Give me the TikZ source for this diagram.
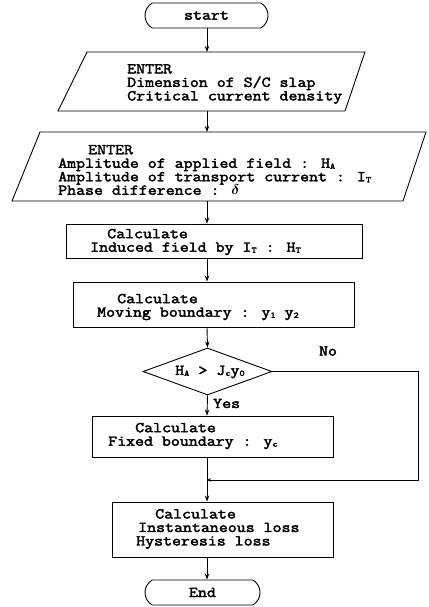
\documentclass[tikz,border=0pt]{standalone}
\usepackage{fontspec}
\usepackage{amsmath,amssymb,bm}
\usetikzlibrary{shapes.geometric,shapes.misc,arrows.meta}
\newfontfamily\fcf[FakeStretch=1.16,FakeBold=2.6]{Latin Modern Mono}
\newcommand\sbx[1]{\raisebox{-1pt}{\fontsize{8.5}{8.5}\selectfont #1}}
\begin{document}
\begin{tikzpicture}[x=1pt,y=-1pt,
  every node/.style={font={\fcf\fontsize{15}{13.5}\selectfont}},
  ln/.style={line width=0.9pt},
  arr/.style={ln,-{Stealth[length=6pt,width=4.5pt]}},
  boxx/.style={draw,ln,rectangle,inner sep=0pt},
  term/.style={draw,ln,rounded rectangle,rounded rectangle arc length=120,inner sep=0pt},
  txt/.style={anchor=west,align=left,inner sep=0pt}]
\path[use as bounding box] (0,0) rectangle (428,607);
\coordinate (ax) at (207,0);
% start
\node[term,minimum width=123pt,minimum height=25pt] (s) at (206.5,15.5) {start};
% parallelogram 1
\coordinate (p1a) at (87,52);
\coordinate (p1b) at (365,52);
\coordinate (p1c) at (345,111);
\coordinate (p1d) at (58,111);
\draw[ln] (p1a) -- (p1b) -- (p1c) -- (p1d) -- cycle;
\node[txt] (t1) at (127,84) {ENTER\\Dimension of S/C slap\\Critical current density};
\draw[arr] (s.south -| ax) -- (p1a -| ax);
% parallelogram 2
\coordinate (p2a) at (40,132);
\coordinate (p2b) at (426,132);
\coordinate (p2c) at (403,201);
\coordinate (p2d) at (12,201);
\draw[ln] (p2a) -- (p2b) -- (p2c) -- (p2d) -- cycle;
\node[txt] (t2) at (58,170) {\hspace*{30pt}ENTER\\Amplitude of applied field : H\sbx{A}\\Amplitude of transport current : I\sbx{T}\\Phase difference : $\bm{\delta}$};
\draw[arr] (p1d -| ax) -- (p2a -| ax);
% box 3
\node[boxx,minimum width=296pt,minimum height=34pt] (b3) at (214,241) {};
\node[txt] (t3) at (90,242) {\hspace*{17pt}Calculate\\Induced field by I\sbx{T} : H\sbx{T}};
\draw[arr] (p2d -| ax) -- (b3.north -| ax);
% box 4
\node[boxx,minimum width=281pt,minimum height=45pt] (b4) at (213.5,304.5) {};
\node[txt] (t4) at (97,307) {\hspace*{20pt}Calculate\\Moving boundary : y\sbx{1} y\sbx{2}};
\draw[arr] (b3.south -| ax) -- (b4.north -| ax);
% decision
\node[diamond,draw,ln,inner sep=0pt,minimum width=129pt,minimum height=47pt] (d) at (207.5,371.5) {};
\node[inner sep=0pt] (dl) at (210,372) {H\sbx{A} > J\sbx{c}y\sbx{0}};
\draw[arr] (b4.south -| ax) -- (d.north);
\node[inner sep=0pt] (no) at (328,351) {No};
\node[anchor=base west,inner sep=0pt] (yes) at (213,408) {Yes};
% box 5
\node[boxx,minimum width=241pt,minimum height=41pt] (b5) at (212.5,436.5) {};
\node[txt] (t5) at (108,436) {\hspace*{27pt}Calculate\\Fixed boundary : y\sbx{c}};
\draw[arr] (d.south) -- (b5.north -| ax);
% merge
\coordinate (jn) at (207,480);
\coordinate (nr) at (418,480);
\draw[ln] (b5.south -| ax) -- (jn);
\draw[ln,-{Stealth[length=4pt,width=3.5pt]}] (d.east) -| (nr) -- (jn);
% box 6
\node[boxx,minimum width=221pt,minimum height=55pt] (b6) at (222.5,529.5) {};
\node[txt] (t6) at (136,529) {\hspace*{19pt}Calculate\\\hspace*{2pt}Instantaneous loss\\Hysteresis loss};
\draw[arr] (jn) -- (b6.north -| ax);
% end
\node[term,minimum width=115pt,minimum height=25pt] (e) at (202.5,592.5) {End};
\draw[arr] (b6.south -| ax) -- (e.north -| ax);
\end{tikzpicture}
\end{document}
